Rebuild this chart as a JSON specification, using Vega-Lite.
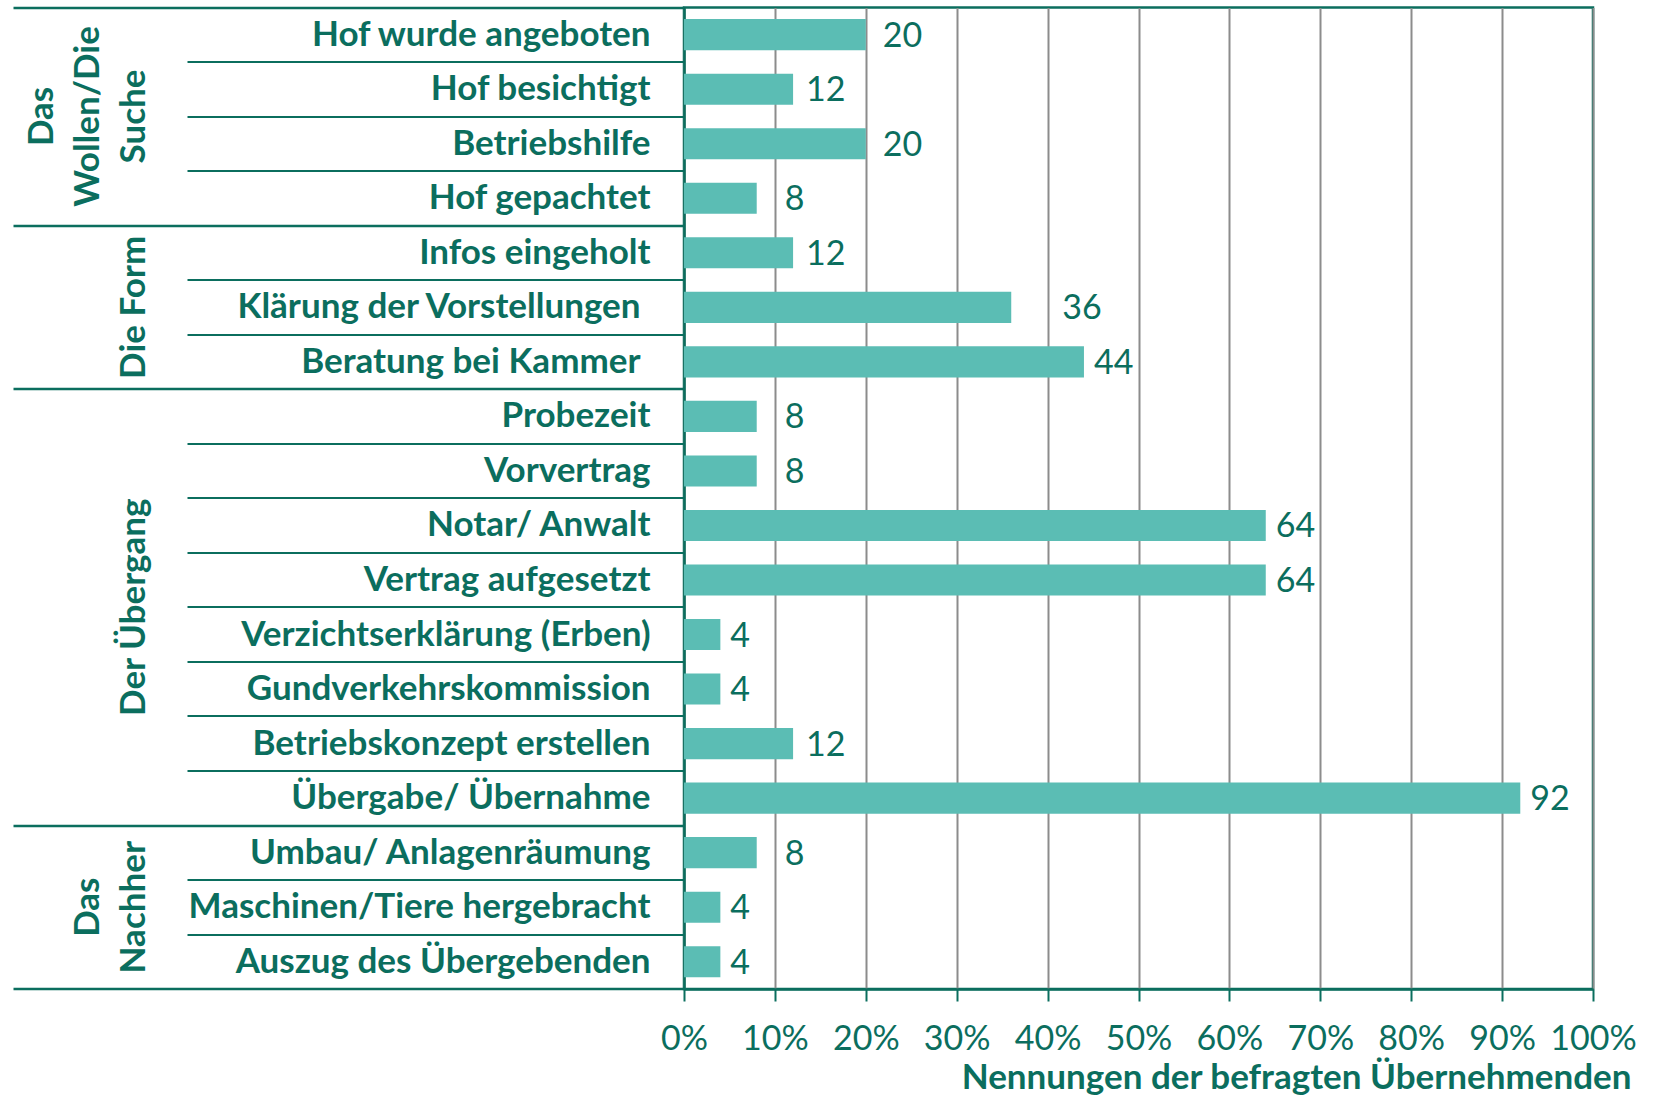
{
  "$schema": "https://vega.github.io/schema/vega-lite/v6.json",
  "width": 909,
  "height": 981.6,
  "autosize": {"type": "none"},
  "padding": {"left": 684, "top": 7.4, "right": 62, "bottom": 108},
  "background": "white",
  "config": {
    "view": {"stroke": "#0B6E5E", "strokeWidth": 2.5},
    "font": "Lato"
  },
  "data": {
    "values": [
      {"group": "Das Wollen/Die Suche", "item": "Hof wurde angeboten", "value": 20},
      {"group": "Das Wollen/Die Suche", "item": "Hof besichtigt", "value": 12},
      {"group": "Das Wollen/Die Suche", "item": "Betriebshilfe", "value": 20},
      {"group": "Das Wollen/Die Suche", "item": "Hof gepachtet", "value": 8},
      {"group": "Die Form", "item": "Infos eingeholt", "value": 12},
      {"group": "Die Form", "item": "Klärung der Vorstellungen ", "value": 36},
      {"group": "Die Form", "item": "Beratung bei Kammer ", "value": 44},
      {"group": "Der Übergang", "item": "Probezeit", "value": 8},
      {"group": "Der Übergang", "item": "Vorvertrag", "value": 8},
      {"group": "Der Übergang", "item": "Notar/ Anwalt", "value": 64},
      {"group": "Der Übergang", "item": "Vertrag aufgesetzt", "value": 64},
      {"group": "Der Übergang", "item": "Verzichtserklärung (Erben)", "value": 4},
      {"group": "Der Übergang", "item": "Gundverkehrskommission", "value": 4},
      {"group": "Der Übergang", "item": "Betriebskonzept erstellen", "value": 12},
      {"group": "Der Übergang", "item": "Übergabe/ Übernahme", "value": 92},
      {"group": "Das Nachher", "item": "Umbau/ Anlagenräumung", "value": 8},
      {"group": "Das Nachher", "item": "Maschinen/Tiere hergebracht", "value": 4},
      {"group": "Das Nachher", "item": "Auszug des Übergebenden", "value": 4}
    ]
  },
  "encoding": {
    "x": {
      "field": "value", "type": "quantitative",
      "scale": {"domain": [0, 100], "nice": false},
      "axis": {
        "orient": "bottom",
        "values": [0, 10, 20, 30, 40, 50, 60, 70, 80, 90, 100],
        "labelExpr": "datum.value + '%'",
        "grid": true,
        "gridColor": "#8C8C8C",
        "gridWidth": 2,
        "tickSize": 12, "tickColor": "#0B6E5E", "tickWidth": 2,
        "domainColor": "#0B6E5E", "domainWidth": 2.5,
        "labelFont": "Lato", "labelFontSize": 34, "labelColor": "#0B6E5E",
        "labelPadding": 21, "labelFlush": false, "labelOverlap": false,
        "title": "Nennungen der befragten Übernehmenden",
        "titleFont": "Lato", "titleFontWeight": "bold", "titleFontSize": 35,
        "titleColor": "#0B6E5E", "titleAnchor": "end", "titleAlign": "right",
        "titleX": 947, "titleY": 99, "titleBaseline": "alphabetic"
      }
    }
  },
  "layer": [
    {
      "mark": {"type": "bar", "color": "#5BBDB4", "height": {"band": 0.57}},
      "encoding": {
        "y": {
          "field": "item", "type": "nominal", "sort": null,
          "scale": {"paddingInner": 0, "paddingOuter": 0},
          "axis": {
            "orient": "left", "title": null, "bandPosition": 1,
            "ticks": true, "tickSize": 497, "tickWidth": 2, "tickColor": "#0B6E5E",
            "domain": true, "domainColor": "#0B6E5E", "domainWidth": 2.5,
            "labelPadding": {"condition": {"test": "slice(datum.value, -1) == ' '", "value": -453}, "value": -463},
            "labelAlign": "right", "labelBaseline": "middle",
            "labelFont": "Lato", "labelFontWeight": "bold", "labelFontSize": 35,
            "labelColor": "#0B6E5E", "labelLimit": 0, "labelOverlap": false, "grid": false
          }
        }
      }
    },
    {
      "mark": {
        "type": "text", "align": "left", "baseline": "middle",
        "dx": {"expr": "datum.value == 8 ? 28 : datum.value == 36 ? 51 : datum.value == 20 ? 17 : datum.value == 12 ? 13 : 10"},
        "dy": 2,
        "font": "Lato", "fontSize": 34, "color": "#0B6E5E"
      },
      "encoding": {
        "y": {
          "field": "item", "type": "nominal", "sort": null,
          "axis": {
            "orient": "left", "title": null,
            "values": ["Hof gepachtet", "Beratung bei Kammer ", "Übergabe/ Übernahme", "Auszug des Übergebenden"],
            "bandPosition": 1, "tickSize": 671, "tickWidth": 2.5, "tickColor": "#0B6E5E",
            "labels": false, "domain": false, "grid": false
          }
        },
        "text": {"field": "value", "type": "quantitative"}
      }
    },
    {
      "mark": {"type": "text", "opacity": 0},
      "encoding": {
        "y": {
          "field": "item", "type": "nominal", "sort": null,
          "axis": {
            "orient": "left", "title": null,
            "values": ["Hof wurde angeboten", "Betriebshilfe", "Klärung der Vorstellungen ", "Verzichtserklärung (Erben)", "Maschinen/Tiere hergebracht"],
            "bandPosition": 0, "tickSize": 671, "tickWidth": 2.5,
            "tickColor": {"condition": {"test": "datum.value == 'Hof wurde angeboten'", "value": "#0B6E5E"}, "value": "rgba(0,0,0,0)"},
            "domain": false, "grid": false,
            "labelExpr": "datum.value == 'Betriebshilfe' ? ['Das', 'Wollen/Die', 'Suche'] : datum.value == 'Klärung der Vorstellungen ' ? 'Die Form' : datum.value == 'Verzichtserklärung (Erben)' ? 'Der Übergang' : datum.value == 'Maschinen/Tiere hergebracht' ? ['Das', 'Nachher'] : ''",
            "labelAngle": 270, "labelAlign": "center", "labelBaseline": "bottom",
            "labelPadding": {"condition": [
              {"test": "datum.value == 'Betriebshilfe'", "value": -46},
              {"test": "datum.value == 'Maschinen/Tiere hergebracht'", "value": -92}
            ], "value": -138},
            "labelOffset": {"condition": {"test": "datum.value == 'Betriebshilfe' || datum.value == 'Verzichtserklärung (Erben)'", "value": -27.27}, "value": 0},
            "labelLineHeight": 46,
            "labelFont": "Lato", "labelFontWeight": "bold", "labelFontSize": 35,
            "labelColor": "#0B6E5E", "labelLimit": 0, "labelOverlap": false
          }
        },
        "text": {"field": "item", "type": "nominal"}
      }
    }
  ],
  "resolve": {"axis": {"y": "independent"}}
}
